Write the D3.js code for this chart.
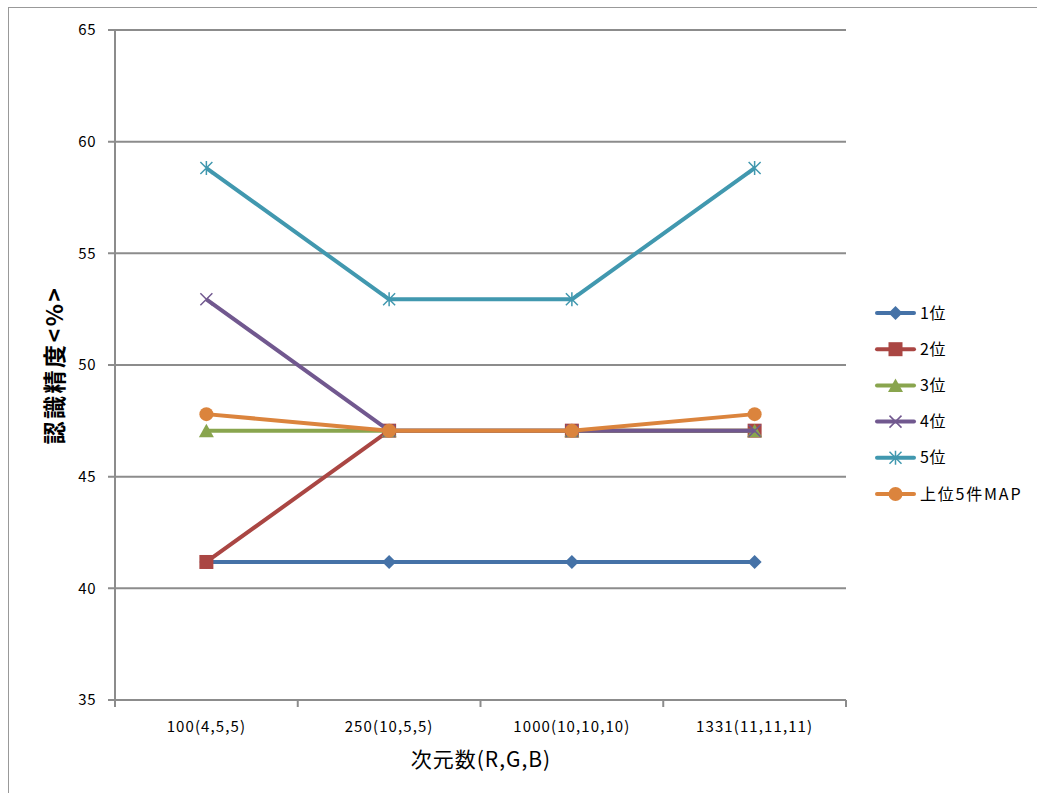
<!DOCTYPE html>
<html><head><meta charset="utf-8">
<script src="https://cdn.jsdelivr.net/npm/d3@7"></script>
<style>body{margin:0;background:#fff}svg{display:block}</style>
</head><body>
<script>
const categories = ["100(4,5,5)", "250(10,5,5)", "1000(10,10,10)", "1331(11,11,11)"];
const seriesNames = ["1位", "2位", "3位", "4位", "5位", "上位5件MAP"];
const s1 = [41.18, 41.18, 41.18, 41.18];
const s2 = [41.18, 47.06, 47.06, 47.06];
const s3 = [47.06, 47.06, 47.06, 47.06];
const s4 = [52.94, 47.06, 47.06, 47.06];
const s5 = [58.82, 52.94, 52.94, 58.82];
const sMap = [47.8, 47.06, 47.06, 47.8];
const yTicks = [35, 40, 45, 50, 55, 60, 65];
const colors = ["#4572A7", "#AA4643", "#89A54E", "#71588F", "#4198AF", "#DB843D"];
const markers = ["diamond", "square", "triangle", "x", "star", "circle"];
const allSeries = [s1, s2, s3, s4, s5, sMap];

const W = 1037, H = 793;
const FONT = "'Noto Sans CJK JP','Open Sans',sans-serif";
const svg = d3.select("body").append("svg").attr("width", W).attr("height", H);
svg.append("rect").attr("x", 8.5).attr("y", 7.5).attr("width", 1200).attr("height", 1200)
  .attr("fill", "none").attr("stroke", "#999").attr("stroke-width", 1);

const L = 115, R = 846, T = 30, B = 700;
const x = d3.scaleBand().domain(categories).range([L, R]);
const y = d3.scaleLinear().domain([35, 65]).range([B, T]);
const g = svg.append("g");

// gridlines
g.selectAll(".grid").data(yTicks).join("line")
  .attr("x1", L - 7).attr("x2", R).attr("y1", d => y(d)).attr("y2", d => y(d))
  .attr("stroke", "#8c8c8c").attr("stroke-width", 2);
// y axis line
g.append("line").attr("x1", L).attr("x2", L).attr("y1", T).attr("y2", B)
  .attr("stroke", "#8c8c8c").attr("stroke-width", 2);
// x tick marks
const xt = [L, ...categories.map(c => x(c) + x.bandwidth())];
g.selectAll(".xt").data(xt).join("line")
  .attr("x1", d => d).attr("x2", d => d).attr("y1", B).attr("y2", B + 7)
  .attr("stroke", "#8c8c8c").attr("stroke-width", 2);
// y labels
g.selectAll(".yl").data(yTicks).join("text")
  .attr("x", 96).attr("y", d => y(d)).attr("dy", "0.35em").attr("text-anchor", "end")
  .attr("font-family", FONT).attr("font-size", 15).attr("letter-spacing", 0.5).attr("fill", "#000").text(d => d);
// x labels
g.selectAll(".xl").data(categories).join("text")
  .attr("x", d => x(d) + x.bandwidth() / 2).attr("y", 727).attr("dy", "0.35em")
  .attr("text-anchor", "middle").attr("font-family", FONT).attr("font-size", 15).attr("letter-spacing", 1.1).text(d => d);
// axis titles
svg.append("text").attr("x", 481).attr("y", 760).attr("dy", "0.35em").attr("text-anchor", "middle")
  .attr("font-family", FONT).attr("font-size", 21).attr("letter-spacing", 1).text("次元数(R,G,B)");
svg.append("text").attr("transform", "translate(55,365) rotate(-90)").attr("dy", "0.35em")
  .attr("text-anchor", "middle").attr("font-family", FONT).attr("font-size", 23).attr("font-weight", "bold")
  .attr("letter-spacing", 2.5).text("認識精度<%>");

function drawMarker(sel, type, color, cx, cy) {
  if (type === "diamond") {
    sel.append("path").attr("d", `M${cx},${cy-7}L${cx+7},${cy}L${cx},${cy+7}L${cx-7},${cy}Z`).attr("fill", color);
  } else if (type === "square") {
    sel.append("rect").attr("x", cx - 7).attr("y", cy - 7).attr("width", 14).attr("height", 14).attr("fill", color);
  } else if (type === "triangle") {
    sel.append("path").attr("d", `M${cx},${cy-7}L${cx+7.5},${cy+6.5}L${cx-7.5},${cy+6.5}Z`).attr("fill", color);
  } else if (type === "x") {
    sel.append("path").attr("d", `M${cx-6},${cy-6}L${cx+6},${cy+6}M${cx-6},${cy+6}L${cx+6},${cy-6}`)
      .attr("stroke", color).attr("stroke-width", 1.5);
  } else if (type === "star") {
    sel.append("path").attr("d", `M${cx-6},${cy-6}L${cx+6},${cy+6}M${cx-6},${cy+6}L${cx+6},${cy-6}M${cx},${cy-7}L${cx},${cy+7}`)
      .attr("stroke", color).attr("stroke-width", 1.5);
  } else {
    sel.append("circle").attr("cx", cx).attr("cy", cy).attr("r", 7).attr("fill", color);
  }
}

const line = d3.line().x((d, i) => x(categories[i]) + x.bandwidth() / 2).y(d => y(d));
allSeries.forEach((s, k) => {
  const sg = g.append("g");
  sg.append("path").attr("d", line(s)).attr("fill", "none").attr("stroke", colors[k])
    .attr("stroke-width", 4).attr("stroke-linejoin", "round");
  s.forEach((v, i) => drawMarker(sg, markers[k], colors[k], x(categories[i]) + x.bandwidth() / 2, y(v)));
});

// legend
const lg = svg.append("g");
seriesNames.forEach((n, k) => {
  const yy = 313 + k * 36.2;
  lg.append("line").attr("x1", 877).attr("x2", 914).attr("y1", yy).attr("y2", yy)
    .attr("stroke", colors[k]).attr("stroke-width", 4).attr("stroke-linecap", "round");
  drawMarker(lg, markers[k], colors[k], 895.5, yy);
  lg.append("text").attr("x", 920).attr("y", yy).attr("dy", "0.35em")
    .attr("font-family", FONT).attr("font-size", 16).attr("letter-spacing", k === 5 ? 1.8 : 0.5).text(n);
});
</script>
</body></html>
